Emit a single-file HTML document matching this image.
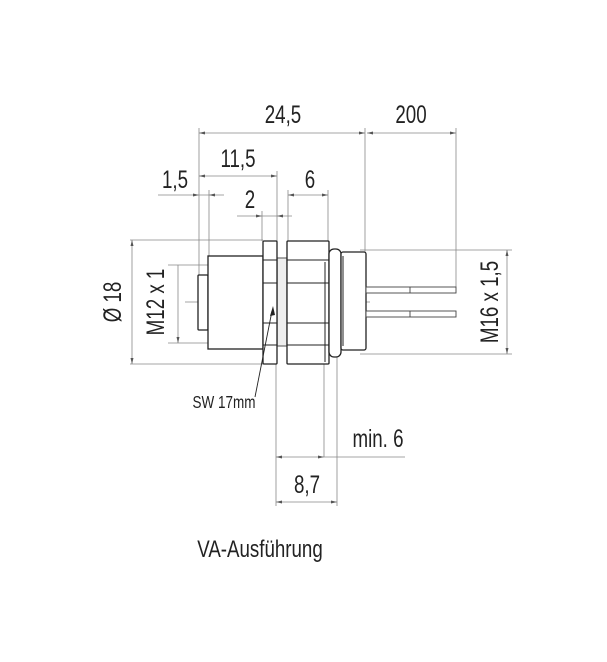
<!DOCTYPE html>
<html><head><meta charset="utf-8"><style>
html,body{margin:0;padding:0;background:#fff}
svg{display:block}
text{font-family:"Liberation Sans Narrow","Liberation Sans",sans-serif;fill:#222}
</style></head><body>
<svg width="607" height="662" viewBox="0 0 607 662" xmlns="http://www.w3.org/2000/svg">
<g stroke="#888" stroke-width="0.8" fill="none">
<line x1="199" y1="128" x2="199" y2="282"/>
<line x1="209" y1="190" x2="209" y2="275"/>
<line x1="365" y1="128" x2="365" y2="252"/>
<line x1="456" y1="128" x2="456" y2="287"/>
<line x1="277" y1="171" x2="277" y2="241"/>
<line x1="262" y1="211" x2="262" y2="241"/>
<line x1="288" y1="190" x2="288" y2="241"/>
<line x1="328" y1="190" x2="328" y2="241"/>
<line x1="130" y1="240" x2="263" y2="240"/>
<line x1="130" y1="364" x2="263" y2="364"/>
<line x1="168" y1="265" x2="208" y2="265"/>
<line x1="168" y1="343" x2="208" y2="343"/>
<line x1="360" y1="250" x2="512" y2="250"/>
<line x1="360" y1="354" x2="512" y2="354"/>
<line x1="276" y1="364" x2="276" y2="506"/>
<line x1="324" y1="364" x2="324" y2="457"/>
<line x1="337" y1="356" x2="337" y2="506"/>
<line x1="199" y1="133" x2="365" y2="133"/>
<line x1="367" y1="133" x2="456" y2="133"/>
<line x1="199" y1="176" x2="277" y2="176"/>
<line x1="158" y1="195" x2="224" y2="195"/>
<line x1="288" y1="195" x2="328" y2="195"/>
<line x1="237" y1="216" x2="292" y2="216"/>
<line x1="132" y1="240" x2="132" y2="364"/>
<line x1="178" y1="265" x2="178" y2="343"/>
<line x1="507" y1="250" x2="507" y2="354"/>
<line x1="276" y1="457" x2="405" y2="457"/>
<line x1="276" y1="502" x2="337" y2="502"/>
<line x1="185" y1="302" x2="370" y2="302" stroke-dasharray="14 3 2 3"/>
</g>
<g fill="#555">
<polygon points="199,133 205,131.5 205,134.5"/><polygon points="365,133 359,131.5 359,134.5"/>
<polygon points="367,133 373,131.5 373,134.5"/><polygon points="456,133 450,131.5 450,134.5"/>
<polygon points="199,176 205,174.5 205,177.5"/><polygon points="277,176 271,174.5 271,177.5"/>
<polygon points="199,195 193,193.5 193,196.5"/><polygon points="209,195 215,193.5 215,196.5"/>
<polygon points="288,195 294,193.5 294,196.5"/><polygon points="328,195 322,193.5 322,196.5"/>
<polygon points="262,216 256,214.5 256,217.5"/><polygon points="277,216 283,214.5 283,217.5"/>
<polygon points="132,240 130.5,246 133.5,246"/><polygon points="132,364 130.5,358 133.5,358"/>
<polygon points="178,343 176.5,337 179.5,337"/>
<polygon points="507,250 505.5,256 508.5,256"/><polygon points="507,354 505.5,348 508.5,348"/>
<polygon points="276,457 282,455.5 282,458.5"/><polygon points="324,457 318,455.5 318,458.5"/>
<polygon points="276,502 282,500.5 282,503.5"/><polygon points="337,502 331,500.5 331,503.5"/>
</g>
<g stroke="#222" stroke-width="1.3" fill="#fff">
<rect x="198" y="275" width="10" height="55" rx="1"/>
<rect x="208" y="256" width="55" height="93"/>
<rect x="277" y="258" width="10" height="88" stroke="#777" fill="#eee"/>
<rect x="263" y="241" width="14" height="123" rx="1"/>
<rect x="287" y="241" width="42" height="123" rx="1"/>
<rect x="329" y="249" width="12" height="108" rx="5"/>
<rect x="341" y="252" width="25" height="98" rx="2"/>
</g>
<g stroke="#222" stroke-width="1">
<line x1="263" y1="260" x2="277" y2="260"/><line x1="263" y1="283" x2="277" y2="283"/>
<line x1="263" y1="323" x2="277" y2="323"/><line x1="263" y1="345" x2="277" y2="345"/>
<line x1="287" y1="260" x2="329" y2="260"/><line x1="287" y1="283" x2="329" y2="283"/>
<line x1="287" y1="323" x2="329" y2="323"/><line x1="287" y1="345" x2="329" y2="345"/>
<line x1="325" y1="262" x2="325" y2="362"/>
<line x1="343" y1="256" x2="343" y2="346"/>
</g>
<g stroke="#444" stroke-width="0.9" fill="#fff">
<rect x="366" y="287" width="90" height="6"/>
<rect x="366" y="311" width="90" height="6"/>
<line x1="410" y1="287" x2="410" y2="293"/><line x1="410" y1="311" x2="410" y2="317"/>
</g>
<line x1="255" y1="397" x2="272" y2="311" stroke="#222" stroke-width="0.9"/>
<polygon points="273,306 270,316 275,315" fill="#222"/>
<g font-size="25">
<text x="283" y="123" text-anchor="middle" transform="translate(283 0) scale(0.75 1) translate(-283 0)">24,5</text>
<text x="411" y="123" text-anchor="middle" transform="translate(411 0) scale(0.75 1) translate(-411 0)">200</text>
<text x="238" y="167" text-anchor="middle" transform="translate(238 0) scale(0.75 1) translate(-238 0)">11,5</text>
<text x="175" y="188" text-anchor="middle" transform="translate(175 0) scale(0.75 1) translate(-175 0)">1,5</text>
<text x="310" y="188" text-anchor="middle" transform="translate(310 0) scale(0.75 1) translate(-310 0)">6</text>
<text x="250" y="208" text-anchor="middle" transform="translate(250 0) scale(0.75 1) translate(-250 0)">2</text>
<text x="307" y="493" text-anchor="middle" transform="translate(307 0) scale(0.75 1) translate(-307 0)">8,7</text>
<text x="378" y="447" text-anchor="middle" transform="translate(378 0) scale(0.75 1) translate(-378 0)">min. 6</text>
<text transform="translate(121 302) rotate(-90) scale(0.75 1)" text-anchor="middle">Ø 18</text>
<text transform="translate(164 302) rotate(-90) scale(0.75 1)" text-anchor="middle">M12 x 1</text>
<text transform="translate(498 302) rotate(-90) scale(0.75 1)" text-anchor="middle">M16 x 1,5</text>
</g>
<text x="224" y="408" font-size="18" text-anchor="middle" transform="translate(224 0) scale(0.75 1) translate(-224 0)">SW 17mm</text>
<text x="260" y="557" font-size="24" text-anchor="middle" transform="translate(260 0) scale(0.78 1) translate(-260 0)">VA-Ausführung</text>
</svg>
</body></html>
